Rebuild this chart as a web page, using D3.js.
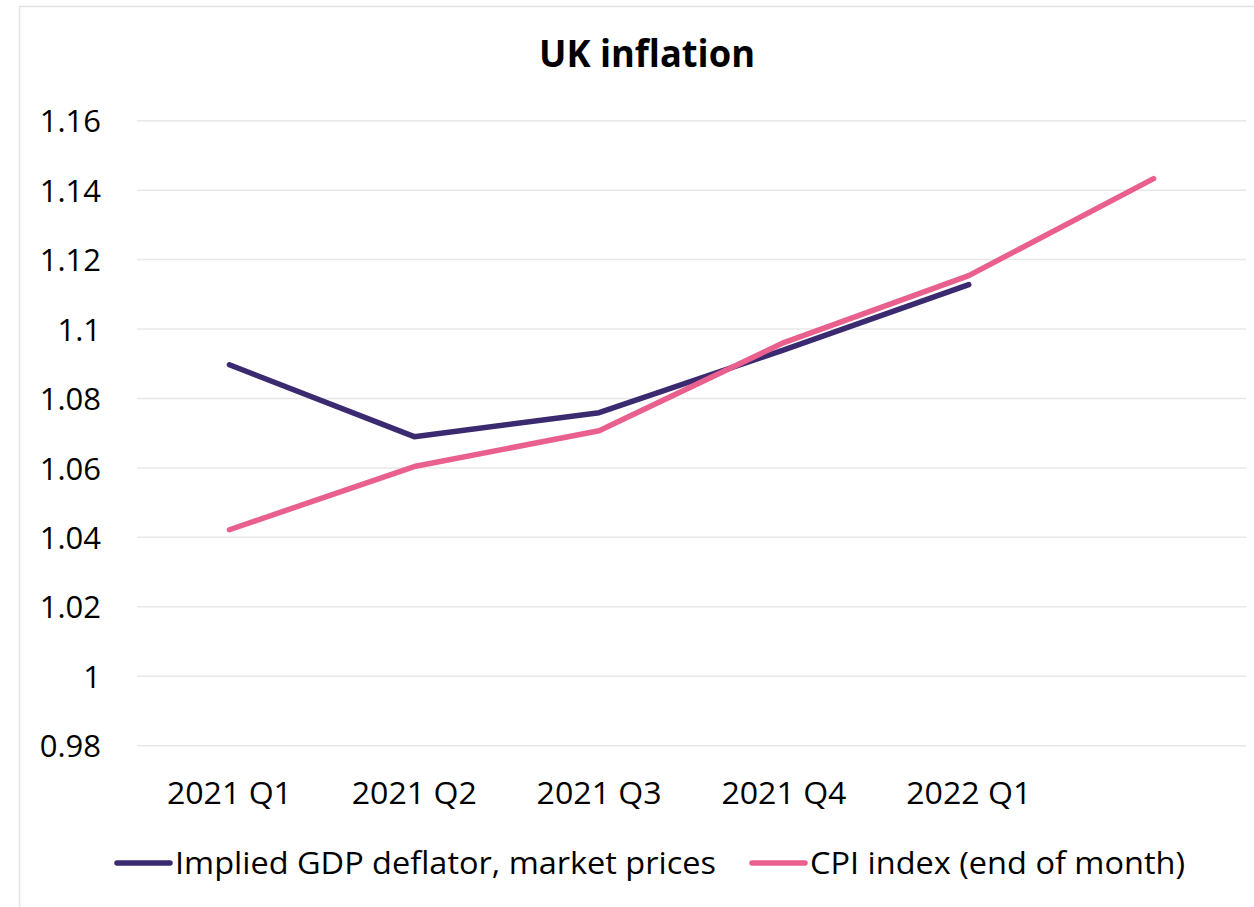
<!DOCTYPE html>
<html>
<head>
<meta charset="utf-8">
<script src="https://cdn.jsdelivr.net/npm/d3@7"></script>
<style>
  body { margin: 0; background: #fff; }
  text { font-family: "Open Sans", "Noto Sans", sans-serif; fill: #000; }
</style>
</head>
<body>
<div id="chart"></div>
<script>
const WIDTH = 1254;
const HEIGHT = 907;

// quarters; the last point has no label in the original
const categories = ["2021 Q1", "2021 Q2", "2021 Q3", "2021 Q4", "2022 Q1", ""];
const yTicks = [0.98, 1, 1.02, 1.04, 1.06, 1.08, 1.1, 1.12, 1.14, 1.16];
const gdpDeflator = [1.0897, 1.069, 1.0759, 1.094, 1.1128];
const cpiIndex = [1.0422, 1.0604, 1.0707, 1.0961, 1.1154, 1.1433];

const series = [
    { name: "Implied GDP deflator, market prices", values: gdpDeflator, color: "#3b2a6f" },
    { name: "CPI index (end of month)", values: cpiIndex, color: "#e9608f" }
];

const svg = d3.select("#chart")
    .append("svg")
    .attr("width", WIDTH)
    .attr("height", HEIGHT);

// chart frame
svg.append("rect")
    .attr("x", 19.5).attr("y", 6.5)
    .attr("width", WIDTH + 10).attr("height", HEIGHT + 10)
    .attr("fill", "none")
    .attr("stroke", "#e3e3e3")
    .attr("stroke-width", 1.5);

const x = d3.scaleBand()
    .domain(categories)
    .range([137, 1246]);

const y = d3.scaleLinear()
    .domain([0.98, 1.16])
    .range([745.7, 120.7]);

// gridlines
svg.append("g")
    .attr("class", "grid")
    .selectAll("line")
    .data(yTicks)
    .join("line")
    .attr("x1", 137).attr("x2", 1246)
    .attr("y1", d => y(d)).attr("y2", d => y(d))
    .attr("stroke", "#e8e8e8")
    .attr("stroke-width", 1.5);

// y axis labels
const yAxis = d3.axisLeft(y)
    .tickValues(yTicks)
    .tickFormat(d => String(+d.toFixed(2)))
    .tickSize(0)
    .tickPadding(0);

svg.append("g")
    .attr("transform", "translate(101,0)")
    .call(yAxis)
    .call(g => g.select(".domain").remove())
    .call(g => g.selectAll("text")
        .attr("font-size", 31)
        .attr("dy", "0.36em")
        .attr("font-family", "'Open Sans', sans-serif"));

// x axis labels
const xAxis = d3.axisBottom(x)
    .tickSize(0)
    .tickPadding(0);

svg.append("g")
    .attr("transform", "translate(0,781)")
    .call(xAxis)
    .call(g => g.select(".domain").remove())
    .call(g => g.selectAll("text")
        .attr("font-size", 31)
        .attr("dy", "0.75em")
        .attr("font-family", "'Open Sans', sans-serif")
        .attr("textLength", d => d ? 125 : null)
        .attr("lengthAdjust", "spacingAndGlyphs"));

const line = d3.line()
    .x((d, i) => x(categories[i]) + x.bandwidth() / 2)
    .y(d => y(d));

svg.append("g")
    .selectAll("path")
    .data(series)
    .join("path")
    .attr("d", d => line(d.values))
    .attr("fill", "none")
    .attr("stroke", d => d.color)
    .attr("stroke-width", 5.5)
    .attr("stroke-linecap", "round")
    .attr("stroke-linejoin", "round");

// title
svg.append("text")
    .attr("x", 647)
    .attr("y", 67)
    .attr("text-anchor", "middle")
    .attr("font-size", 37)
    .attr("font-weight", "bold")
    .attr("textLength", 216)
    .attr("lengthAdjust", "spacingAndGlyphs")
    .text("UK inflation");

// legend
const legendPos = [
    { x: 117, textLen: 541 },
    { x: 752, textLen: 375 }
];

const legend = svg.append("g")
    .selectAll("g")
    .data(series)
    .join("g")
    .attr("transform", (d, i) => `translate(${legendPos[i].x},863)`);

legend.append("line")
    .attr("x1", 0).attr("x2", 53)
    .attr("stroke", d => d.color)
    .attr("stroke-width", 5.5)
    .attr("stroke-linecap", "round");

legend.append("text")
    .attr("x", 58)
    .attr("dy", "0.36em")
    .attr("font-size", 31)
    .attr("textLength", (d, i) => legendPos[i].textLen)
    .attr("lengthAdjust", "spacingAndGlyphs")
    .text(d => d.name);
</script>
</body>
</html>
